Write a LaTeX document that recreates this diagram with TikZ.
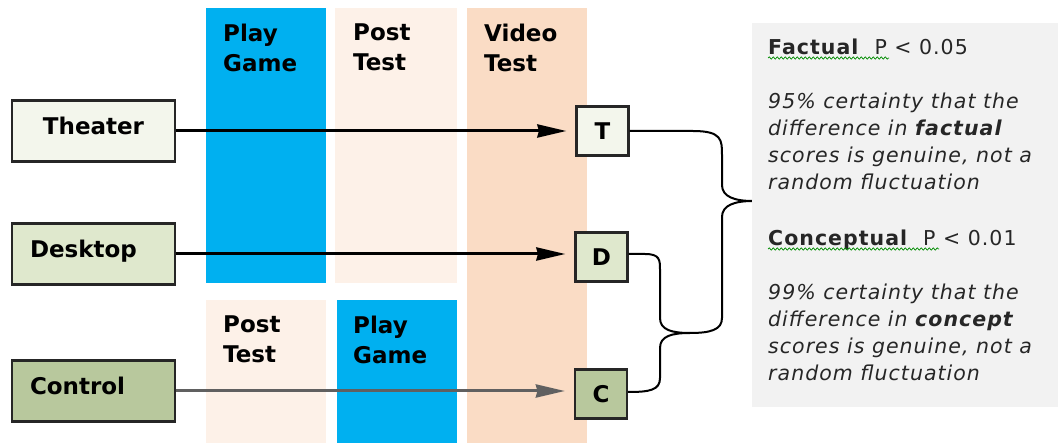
\documentclass[tikz,border=0pt]{standalone}
\usepackage{fontspec}
\setmainfont{DejaVu Sans}
\newfontfamily\notefont[LetterSpace=5]{DejaVu Sans}
\usetikzlibrary{arrows.meta}
\usetikzlibrary{decorations.pathmorphing}
\definecolor{gameblue}{HTML}{00B0F0}
\definecolor{postpeach}{HTML}{FDF1E8}
\definecolor{videopeach}{HTML}{FADCC5}
\definecolor{theatergreen}{HTML}{F3F6EC}
\definecolor{desktopgreen}{HTML}{DFE8CD}
\definecolor{controlgreen}{HTML}{B8C89D}
\definecolor{notegrey}{HTML}{F2F2F2}
\definecolor{controlline}{HTML}{606060}

\begin{document}
\begin{tikzpicture}[x=1pt,y=-1pt]
	\tikzstyle{phase}=[draw=none,inner sep=0pt,anchor=north west]
	\tikzstyle{phasetext}=[anchor=north west,align=left,inner sep=0pt,font=\bfseries\fontsize{23}{30}\selectfont]
	\tikzstyle{group}=[draw=black!85,line width=2.5,minimum width=163,minimum height=61,text width=127,inner xsep=18,text height=17,text depth=9,font=\bfseries\fontsize{23}{28}\selectfont]
	\tikzstyle{result}=[draw=black!85,line width=2.2,minimum width=52,minimum height=49,inner sep=0pt,font=\bfseries\fontsize{23}{27}\selectfont]
	\tikzstyle{flow}=[->,>={Stealth[length=29pt,width=13pt,inset=1.5pt]},shorten >=9pt,line width=3]
	\tikzstyle{brace}=[line width=2]
	\tikzstyle{squiggle}=[decorate,decoration={snake,amplitude=1.1pt,segment length=4pt},draw=green!55!black,line width=0.7]

	\useasboundingbox (0,0) rectangle (1058,443);

	% phases
	\node[phase,fill=gameblue,minimum width=120,minimum height=275] (play1) at (206,8) {};
	\node[phase,fill=postpeach,minimum width=122,minimum height=275] (post1) at (335,8) {};
	\node[phase,fill=videopeach,minimum width=120,minimum height=435] (video) at (467,8) {};
	\node[phase,fill=postpeach,minimum width=120,minimum height=143] (post2) at (206,300) {};
	\node[phase,fill=gameblue,minimum width=120,minimum height=143] (play2) at (337,300) {};

	\node[phasetext] (play1text) at ([xshift=17,yshift=-16]play1.north west) {Play\\Game};
	\node[phasetext] (post1text) at ([xshift=18,yshift=-16]post1.north west) {Post\\Test};
	\node[phasetext] (videotext) at ([xshift=17,yshift=-16]video.north west) {Video\\Test};
	\node[phasetext] (post2text) at ([xshift=17,yshift=-16]post2.north west) {Post\\Test};
	\node[phasetext] (play2text) at ([xshift=16,yshift=-16]play2.north west) {Play\\Game};

	% groups and results
	\node[group,fill=theatergreen,align=center] (theater) at (93.5,131) {Theater};
	\node[group,fill=desktopgreen,align=left] (desktop) at (93.5,254) {Desktop};
	\node[group,fill=controlgreen,align=left] (control) at (93.5,391) {Control};

	\node[result,fill=theatergreen] (t) at (602.5,131) {T};
	\node[result,fill=desktopgreen] (d) at (601.5,257) {D};
	\node[result,fill=controlgreen] (c) at (601,394) {C};

	\draw[flow] (theater) -- (t);
	\draw[flow] (desktop.east) -- (d.west |- desktop.east);
	\draw[flow,draw=controlline,fill=controlline] (control.east) -- (c.west |- control.east);

	% braces
	\coordinate (tip) at (753,201);
	\coordinate (join) at (690,333);
	\draw[brace] (t.east) -- (693,131) .. controls (722,131) and (722,140) .. (722,155) -- (722,185)
		.. controls (722,197) and (735,201) .. (tip)
		.. controls (735,201) and (722,205) .. (722,217) -- (722,318)
		.. controls (722,330) and (710,333) .. (join);
	\draw[brace] (d.east |- 0,254) -- (645,254) .. controls (660,254) and (660,260) .. (660,270) -- (660,318)
		.. controls (660,330) and (672,333) .. (join)
		.. controls (672,333) and (660,336) .. (660,348) -- (660,378)
		.. controls (660,390) and (650,392) .. (c.east |- 0,392);

	% notes
	\node[phase,fill=notegrey,minimum width=306,minimum height=384] (notes) at (752,23) {};
	\node[anchor=north west,align=left,inner sep=0pt,text=black!85,font=\notefont\fontsize{20.5}{27}\selectfont] (notestext) at ([xshift=16,yshift=-16]notes.north west)
		{\textbf{Factual}\ \ P < 0.05\\[27pt]
		\textit{95\% certainty that the}\\
		\textit{difference in \textbf{factual}}\\
		\textit{scores is genuine, not a}\\
		\textit{random fluctuation}\\[29pt]
		\textbf{Conceptual}\ \ P < 0.01\\[27pt]
		\textit{99\% certainty that the}\\
		\textit{difference in \textbf{concept}}\\
		\textit{scores is genuine, not a}\\
		\textit{random fluctuation}};
	\draw[squiggle] (768,58) -- (889,58);
	\draw[squiggle] (768,249) -- (939,249);
\end{tikzpicture}
\end{document}
